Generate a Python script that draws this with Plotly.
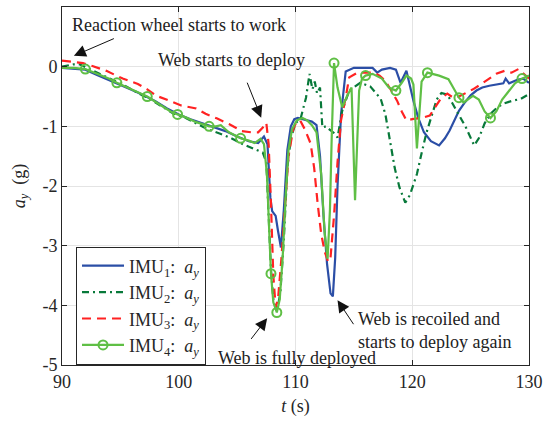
import plotly.graph_objects as go

# ---------------- data ----------------
t1 = [90, 91, 92, 93, 94, 95, 96, 97, 98, 99, 100, 101, 102, 103, 104, 105, 106, 106.8, 107.3, 107.6,
      107.85, 108.0, 108.3, 108.5, 108.75, 109.0, 109.3, 109.6, 109.9, 110.2, 110.6, 111.0, 111.4, 111.8,
      112.1, 112.4, 112.7, 113.0, 113.2, 113.4, 113.6, 113.9, 114.3, 115.0, 116.0, 116.6, 117.0, 117.4,
      118.1, 118.6, 119.0, 119.5, 120.1, 120.5, 121.0, 121.6, 122.3, 122.8, 123.2, 123.6, 124.0, 124.5,
      125.0, 125.5, 126.0, 126.6, 127.2, 127.8, 128.0, 128.3, 129.0, 129.5, 130]
a1 = [-0.02, -0.03, -0.05, -0.14, -0.22, -0.30, -0.39, -0.48, -0.58, -0.70, -0.80, -0.88, -0.95, -1.02,
      -1.08, -1.17, -1.25, -1.28, -1.17, -1.30, -2.20, -2.42, -2.50, -2.75, -3.03, -2.40, -1.40, -1.00,
      -0.88, -0.86, -0.88, -0.90, -0.92, -0.98, -1.50, -2.50, -3.30, -3.80, -3.85, -3.20, -2.00, -0.80,
      -0.08, -0.02, -0.02, -0.02, -0.10, -0.05, -0.02, -0.05, -0.27, -0.07, -0.57, -0.85, -1.10, -1.25,
      -1.32, -1.20, -1.07, -0.90, -0.74, -0.60, -0.48, -0.40, -0.35, -0.32, -0.30, -0.28, -0.20, -0.28,
      -0.22, -0.20, -0.27]

t2 = [90, 91, 91.5, 92.5, 93.5, 94.5, 95.5, 96.5, 97.5, 98.5, 99.5, 100.5, 101.5, 102.5, 103.5, 104.5,
      105.5, 106.5, 107.2, 107.5, 107.7, 107.9, 108.1, 108.4, 108.7, 109.0, 109.3, 109.6, 110.0, 110.45,
      110.9, 111.2, 111.45, 111.65, 111.85, 112.1, 112.3, 112.6, 112.9, 113.35, 113.6, 114.0, 114.6, 115.55,
      116.4, 117.3, 117.7, 118.1, 118.5, 118.9, 119.4, 119.8, 120.4, 120.8, 121.2, 121.7, 122.1, 122.5,
      123.0, 123.4, 123.8, 124.6, 125.3, 125.7, 126.2, 126.8, 127.3, 127.8, 128.6, 129.3, 130]
a2 = [0.00, 0.04, 0.04, -0.05, -0.15, -0.24, -0.33, -0.44, -0.54, -0.66, -0.78, -0.85, -0.95, -1.05,
      -1.12, -1.20, -1.30, -1.38, -1.44, -1.60, -2.40, -3.40, -3.90, -4.10, -3.80, -2.90, -1.70, -1.20,
      -0.95, -0.86, -0.52, -0.12, -0.38, -0.25, -0.45, -0.35, -1.02, -1.00, -1.05, -1.12, -1.19, -0.74,
      -0.40, -0.27, -0.33, -0.54, -0.80, -1.24, -1.70, -2.02, -2.28, -2.15, -1.80, -1.45, -1.12, -0.80,
      -0.55, -0.44, -0.47, -0.60, -0.74, -1.02, -1.32, -1.20, -0.95, -0.77, -0.68, -0.62, -0.57, -0.54,
      -0.46]

t3 = [90, 91, 91.8, 92.6, 93.8, 95.2, 96.5, 97.3, 98.1, 99.2, 100.2, 101.5, 102.3, 103.3, 104.3, 105.4,
      106.2, 106.8, 107.2, 107.5, 107.7, 107.9, 108.1, 108.3, 108.5, 108.8, 109.1, 109.4, 109.8, 110.1,
      110.4, 110.8, 111.3, 111.6, 111.9, 112.2, 112.5, 112.8, 113.0, 113.3, 113.6, 113.9, 114.3, 114.6,
      115.3, 116.0, 116.7, 117.2, 117.7, 118.2, 118.7, 119.1, 119.5, 120.0, 120.5, 121.0, 121.5, 122.0,
      122.4, 123.0, 123.5, 124.0, 124.6, 125.2, 126.0, 126.6, 127.2, 127.9, 128.5, 129.1, 129.6, 130]
a3 = [0.10, 0.08, 0.06, 0.01, -0.07, -0.20, -0.29, -0.38, -0.49, -0.57, -0.65, -0.70, -0.79, -0.87,
      -0.96, -1.08, -1.10, -1.10, -1.02, -0.94, -1.30, -2.30, -3.50, -4.03, -3.90, -3.20, -2.30, -1.50,
      -1.05, -0.92, -0.90, -1.05, -1.29, -1.70, -2.30, -2.80, -3.10, -3.27, -3.20, -2.50, -1.60, -0.90,
      -0.52, -0.18, -0.10, -0.10, -0.10, -0.15, -0.24, -0.40, -0.57, -0.75, -0.90, -0.88, -0.87, -0.85,
      -0.82, -0.68, -0.55, -0.45, -0.52, -0.50, -0.44, -0.38, -0.28, -0.20, -0.12, -0.07, -0.10, -0.04,
      -0.12, -0.20]

t4 = [90, 91, 92.0, 93, 94, 94.7, 95.5, 96.4, 97.3, 98.5, 99.3, 99.9, 100.6, 101.5, 102.6, 103.2, 103.6,
      104.3, 105.3, 106.0, 106.5, 107.0, 107.3, 107.55, 107.75, 107.9, 108.1, 108.4, 108.65, 108.9, 109.15,
      109.4, 109.7, 110.1, 110.6, 111.0, 111.4, 111.8, 112.2, 112.5, 112.75, 112.95, 113.1, 113.3, 113.6,
      114.0, 114.4, 114.8, 115.1, 115.45, 115.7, 116.0, 116.6, 117.4, 118.0, 118.6, 119.1, 119.5, 119.9,
      120.1, 120.4, 120.8, 121.3, 121.8, 122.3, 123.1, 123.5, 124.0, 124.4, 124.8, 125.2, 125.7, 126.2,
      126.7, 127.2, 127.7, 128.3, 128.8, 129.4, 130]
a4 = [-0.02, -0.02, -0.04, -0.12, -0.20, -0.27, -0.34, -0.42, -0.50, -0.65, -0.75, -0.80, -0.85, -0.93,
      -1.00, -1.00, -0.98, -1.10, -1.20, -1.24, -1.28, -1.21, -1.30, -1.80, -2.70, -3.47, -3.95, -4.12,
      -3.90, -3.20, -2.20, -1.40, -1.05, -0.90, -0.86, -0.90, -0.98, -1.10, -1.80, -2.80, -3.22, -2.40,
      -1.20, 0.06, -0.35, -0.68, -0.50, -0.35, -2.24, -0.40, -0.20, -0.15, -0.12, -0.20, -0.35, -0.40,
      -0.27, -0.15, -0.20, -0.30, -1.37, -0.25, -0.10, -0.12, -0.15, -0.21, -0.35, -0.52, -0.60, -0.55,
      -0.49, -0.55, -0.75, -0.86, -0.75, -0.55, -0.40, -0.28, -0.20, -0.15]
marker_times4 = [92.0, 94.7, 97.3, 99.9, 102.6, 105.3, 107.9, 108.4, 113.3, 116.0, 118.6, 121.3, 124.0,
                 126.7, 129.4]

series_names = ["IMU<sub>1</sub>:&nbsp; <i>a<sub>y</sub></i>", "IMU<sub>2</sub>:&nbsp; <i>a<sub>y</sub></i>",
                "IMU<sub>3</sub>:&nbsp; <i>a<sub>y</sub></i>", "IMU<sub>4</sub>:&nbsp; <i>a<sub>y</sub></i>"]
x_ticks = [90, 100, 110, 120, 130]
y_ticks = [-5, -4, -3, -2, -1, 0, 1]
y_ticktext = ["-5", "-4", "-3", "-2", "-1", "0", "1"]

# ---------------- style ----------------
FONT = "Liberation Serif, Times New Roman, serif"
C1, C2, C3, C4 = "#2b4ea6", "#08793a", "#ff2222", "#5fbf45"
DARK = "#262626"

fig = go.Figure()
fig.add_trace(go.Scatter(x=t1, y=a1, mode="lines", name=series_names[0],
                         line=dict(color=C1, width=2.2)))
fig.add_trace(go.Scatter(x=t2, y=a2, mode="lines", name=series_names[1],
                         line=dict(color=C2, width=2.2, dash="7px,4px,2px,4px")))
fig.add_trace(go.Scatter(x=t3, y=a3, mode="lines", name=series_names[2],
                         line=dict(color=C3, width=2.2, dash="9px,6px")))
fig.add_trace(go.Scatter(x=t4, y=a4, mode="lines", showlegend=False,
                         line=dict(color=C4, width=2.2)))
mx = [t for t in t4 if t in marker_times4]
my = [a for t, a in zip(t4, a4) if t in marker_times4]
fig.add_trace(go.Scatter(x=mx, y=my, mode="markers", showlegend=False,
                         marker=dict(symbol="circle-open", size=9, color=C4, line=dict(width=2, color=C4))))
fig.add_trace(go.Scatter(x=[None], y=[None], mode="lines+markers", name=series_names[3],
                         line=dict(color=C4, width=2.2),
                         marker=dict(symbol="circle-open", size=9, color=C4, line=dict(width=2, color=C4))))

# ---------------- annotations ----------------
def px2t(px):
    return 90 + (px - 62) / 11.78

def py2a(py):
    return 1 - (py - 6) / 59.83

arrows = [  # head (px,py), tail offset
    ((74, 55), (44, -19)),
    ((263, 117), (-18, -45)),
    ((269, 318), (-20, 26)),
    ((340, 300), (20, 30)),
]
for (hx, hy), (ox, oy) in arrows:
    fig.add_annotation(x=px2t(hx), y=py2a(hy), ax=ox, ay=oy, text=" ", showarrow=True,
                       arrowhead=2, arrowsize=2.4, arrowwidth=1, arrowcolor="#111111")

texts = [
    ("Reaction wheel starts to work", 70, 24),
    ("Web starts to deploy", 157, 59),
    ("Web is fully deployed", 217, 358),
    ("Web is recoiled and<br>starts to deploy again", 359, 330),
]
for txt, tx, ty in texts:
    fig.add_annotation(x=px2t(tx), y=py2a(ty), text=txt, showarrow=False, xanchor="left",
                       yanchor="middle", align="left", font=dict(family=FONT, size=18, color="#222222"))

fig.update_layout(
    width=549, height=425,
    margin=dict(l=62, r=16, t=6, b=60),
    paper_bgcolor="white", plot_bgcolor="white",
    font=dict(family=FONT, size=18, color=DARK),
    legend=dict(x=0.03, y=0.331, xanchor="left", yanchor="top", bgcolor="white",
                bordercolor=DARK, borderwidth=1, font=dict(family=FONT, size=18, color=DARK),
                itemwidth=42, tracegroupgap=0),
)
fig.update_xaxes(range=[90, 130], tickvals=x_ticks, showgrid=True, gridcolor="#e4e4e4", gridwidth=1,
                 showline=True, linecolor=DARK, linewidth=1, mirror="ticks", ticks="inside",
                 ticklen=5, tickcolor=DARK, zeroline=False,
                 title=dict(text="<i>t</i> (s)", standoff=8, font=dict(family=FONT, size=18)),
                 tickfont=dict(family=FONT, size=18, color=DARK))
fig.update_yaxes(range=[-5, 1], tickvals=y_ticks, ticktext=y_ticktext, showgrid=True, gridcolor="#e4e4e4",
                 gridwidth=1, showline=True, linecolor=DARK, linewidth=1, mirror="ticks", ticks="inside",
                 ticklen=5, tickcolor=DARK, zeroline=False,
                 title=dict(text="<i>a<sub>y</sub></i>  (g)", standoff=12, font=dict(family=FONT, size=18)),
                 tickfont=dict(family=FONT, size=18, color=DARK))

fig.write_html("out.html")
